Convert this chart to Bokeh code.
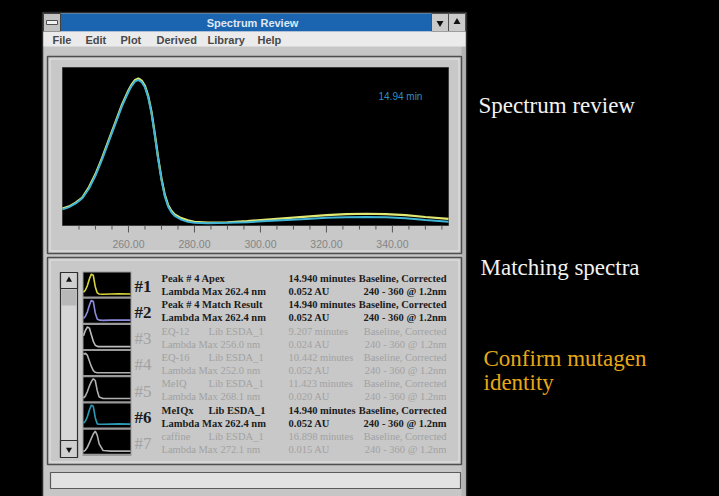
from bokeh.plotting import figure
from bokeh.models import Range1d
from bokeh.core.properties import value
from bokeh.embed import file_html
from bokeh.resources import INLINE

# ---------------- data ----------------
wavelengths = [240, 242, 244, 246, 248, 250, 252, 254, 256, 258, 260, 261, 262, 263, 264,
               265, 266, 267, 268, 269, 270, 271, 272, 273, 274, 276, 278, 280, 284, 290,
               296, 302, 308, 314, 320, 326, 332, 338, 344, 350, 357]
sample_abs = [0.115, 0.13, 0.155, 0.19, 0.26, 0.35, 0.46, 0.58, 0.70, 0.82, 0.92, 0.96, 0.99,
              1.0, 0.985, 0.95, 0.88, 0.77, 0.62, 0.46, 0.32, 0.21, 0.14, 0.10, 0.075, 0.05,
              0.035, 0.025, 0.02, 0.022, 0.03, 0.04, 0.05, 0.06, 0.07, 0.078, 0.08, 0.078,
              0.07, 0.058, 0.045]
library_abs = [0.11, 0.125, 0.15, 0.185, 0.25, 0.34, 0.45, 0.57, 0.69, 0.81, 0.91, 0.95, 0.98,
               0.99, 0.975, 0.94, 0.87, 0.76, 0.61, 0.45, 0.31, 0.20, 0.13, 0.09, 0.065, 0.04,
               0.025, 0.018, 0.015, 0.018, 0.022, 0.03, 0.038, 0.045, 0.052, 0.056, 0.058,
               0.056, 0.05, 0.038, 0.025]
wl_min, wl_max = 240, 357
major_ticks = [260, 280, 300, 320, 340]
tick_labels = ["260.00", "280.00", "300.00", "320.00", "340.00"]
minor_ticks = [245, 250, 255, 265, 270, 275, 285, 290, 295, 305, 310, 315, 325, 330, 335,
               345, 350, 355]
time_label = "14.94 min"

# thumbnails (normalised to each thumbnail box)
thumb_wl = [240, 245, 250, 255, 260, 265, 270, 275, 280, 290, 310, 330, 360]
thumb_1 = [0.15, 0.25, 0.45, 0.75, 0.97, 0.92, 0.40, 0.12, 0.07, 0.06, 0.07, 0.08, 0.07]
thumb_2 = [0.15, 0.25, 0.45, 0.75, 0.97, 0.92, 0.40, 0.12, 0.07, 0.06, 0.07, 0.08, 0.07]
thumb_3 = [0.55, 0.80, 0.95, 0.90, 0.60, 0.30, 0.12, 0.07, 0.06, 0.06, 0.06, 0.06, 0.06]
thumb_4 = [0.90, 0.95, 0.85, 0.60, 0.35, 0.16, 0.08, 0.06, 0.06, 0.06, 0.06, 0.06, 0.06]
thumb_5 = [0.10, 0.20, 0.40, 0.65, 0.85, 0.98, 0.90, 0.45, 0.15, 0.08, 0.08, 0.08, 0.08]
thumb_6 = [0.15, 0.25, 0.45, 0.75, 0.97, 0.92, 0.40, 0.12, 0.10, 0.10, 0.11, 0.12, 0.11]
thumb_7 = [0.05, 0.12, 0.25, 0.45, 0.65, 0.85, 0.98, 0.80, 0.40, 0.10, 0.07, 0.07, 0.07]
thumb_colors = ["#d6d63a", "#8c8cdc", "#bcbcbc", "#b0b0b0", "#b0b0b0", "#2b9ab4", "#b0b0b0"]

row_ids = ["#1", "#2", "#3", "#4", "#5", "#6", "#7"]
row_names = ["Peak # 4 Apex", "Peak # 4 Match Result", "EQ-12", "EQ-16", "MeIQ", "MeIQx", "caffine"]
row_libs = ["", "", "Lib ESDA_1", "Lib ESDA_1", "Lib ESDA_1", "Lib ESDA_1", "Lib ESDA_1"]
row_lmax = [262.4, 262.4, 256.0, 252.0, 268.1, 262.4, 272.1]
row_rt = [14.940, 14.940, 9.207, 10.442, 11.423, 14.940, 16.898]
row_au = [0.052, 0.052, 0.024, 0.052, 0.020, 0.052, 0.015]
row_match = [True, True, False, False, False, True, False]

menu_items = ["File", "Edit", "Plot", "Derived", "Library", "Help"]
menu_x = [52, 85, 120, 156, 207, 257]

captions = ["Spectrum review", "Matching spectra", "Confirm mutagen", "identity"]
caption_colors = ["#f2f2f2", "#f2f2f2", "#e6a818", "#e6a818"]

# ---------------- layout (reference pixel coordinates) ----------------
W, H = 719, 496
X0, X1, Y0, Y1 = 0, 719, 0, 496
PL, PR, PT, PB = 62, 448, 67, 225          # spectrum plot box
ABS_TOP_PX = 78                              # y pixel of abs = 1.0
TL, TR, TT, TPITCH, TH = 83, 130, 272, 26.2, 24   # thumbnails
ROW0, RPITCH = 278, 26.3

p = figure(width=W, height=H, x_range=Range1d(X0, X1), y_range=Range1d(Y1, Y0),
           x_axis_location=None, y_axis_location=None, toolbar_location=None, tools="",
           output_backend="svg", min_border=0, background_fill_color="#000000",
           border_fill_color="#000000", outline_line_color=None)
p.xgrid.visible = False
p.ygrid.visible = False

# extra ranges so data goes through bokeh scales
s = (wl_max - wl_min) / (PR - PL)
a = 1.0 / (PB - ABS_TOP_PX)
st = (360 - 240) / (TR - TL)
p.extra_x_ranges = {
    "wl": Range1d(wl_min - (PL - X0) * s, wl_max + (X1 - PR) * s),
    "thumb": Range1d(240 - (TL - X0) * st, 360 + (X1 - TR) * st),
}
p.extra_y_ranges = {"abs": Range1d((PB - Y1) * a, (PB - Y0) * a)}
for i in range(7):
    top = TT + TPITCH * i + 1
    bot = top + TH - 2
    k = 1.0 / (bot - top)
    p.extra_y_ranges[f"t{i}"] = Range1d((bot - Y1) * k, (bot - Y0) * k)

# ---------------- window chrome ----------------
p.quad(left=42, right=466, top=12, bottom=500, fill_color="#c6c6c6", line_color="#2a2a2a", line_width=1.5)
p.quad(left=461, right=465, top=46, bottom=500, fill_color="#b4b4b4", line_color=None)
p.quad(left=60, right=431, top=13, bottom=31, fill_color="#1a64b0", line_color=None)
p.quad(left=43, right=60, top=13, bottom=31, fill_color="#c2c2c2", line_color="#404040", line_width=1)
p.quad(left=46, right=57, top=20, bottom=24, fill_color="#f2f2f2", line_color="#505050", line_width=1)
p.quad(left=[431, 448], right=[448, 465], top=[13, 13], bottom=[31, 31],
       fill_color="#cacaca", line_color="#505050", line_width=1)
p.scatter(x=[439.5], y=[22.5], marker="inverted_triangle", size=7, fill_color="#101010", line_color=None)
p.scatter(x=[456.5], y=[21.5], marker="triangle", size=7, fill_color="#101010", line_color=None)
p.text(x=[252], y=[22], text=["Spectrum Review"], text_font=value("Liberation Sans"),
       text_font_style="bold", text_font_size="11px", text_color="#dfe8f4",
       text_align="center", text_baseline="middle")
p.quad(left=43, right=465, top=31, bottom=46, fill_color="#ebebeb", line_color=None)
p.text(x=menu_x, y=[39] * len(menu_items), text=menu_items, text_font=value("Liberation Sans"),
       text_font_style="bold", text_font_size="11px", text_color="#484848",
       text_align="left", text_baseline="middle")

# panel 1
p.quad(left=47, right=461, top=56, bottom=253, fill_color="#c8c8c8", line_color="#4e4e4e", line_width=1.5)
p.quad(left=49.5, right=458.5, top=58.5, bottom=250.5, fill_color=None, line_color="#e4e4e4", line_width=1)
p.quad(left=PL, right=PR, top=PT, bottom=PB, fill_color="#000000", line_color="#3a3a3a", line_width=1)

# spectrum
p.line(x=wavelengths, y=sample_abs, x_range_name="wl", y_range_name="abs",
       line_color="#e2e872", line_width=2.2)
p.line(x=wavelengths, y=library_abs, x_range_name="wl", y_range_name="abs",
       line_color="#3fb4d6", line_width=2)
p.text(x=[378], y=[96], text=[time_label], text_font=value("Liberation Sans"),
       text_font_size="10px", text_color="#2e8ec4", text_align="left", text_baseline="middle")

# axis ticks / labels through wavelength scale
p.segment(x0=minor_ticks, x1=minor_ticks, y0=[PB] * len(minor_ticks), y1=[PB + 4] * len(minor_ticks),
          x_range_name="wl", line_color="#555555", line_width=1)
p.segment(x0=major_ticks, x1=major_ticks, y0=[PB] * len(major_ticks), y1=[PB + 7] * len(major_ticks),
          x_range_name="wl", line_color="#555555", line_width=1)
p.text(x=major_ticks, y=[243] * len(major_ticks), text=tick_labels, x_range_name="wl",
       text_font=value("Liberation Sans"), text_font_size="10.5px", text_color="#858585",
       text_align="center", text_baseline="middle")

# panel 2
p.quad(left=47, right=461, top=257, bottom=464, fill_color="#c8c8c8", line_color="#4e4e4e", line_width=1.5)
p.quad(left=49.5, right=458.5, top=259.5, bottom=461.5, fill_color=None, line_color="#e4e4e4", line_width=1)

# scrollbar
p.quad(left=60, right=77, top=272, bottom=457, fill_color="#d6d6d6", line_color="#2e2e2e", line_width=1.2)
p.quad(left=[60, 60], right=[77, 77], top=[272, 440], bottom=[288, 457],
       fill_color="#d0d0d0", line_color="#2e2e2e", line_width=1.2)
p.quad(left=61, right=76, top=289, bottom=305, fill_color="#b8b8b8", line_color=None)
p.scatter(x=[68.5], y=[279.5], marker="triangle", size=6, fill_color="#111111", line_color=None)
p.scatter(x=[68.5], y=[449], marker="inverted_triangle", size=6, fill_color="#111111", line_color=None)

# thumbnails
thumbs = [thumb_1, thumb_2, thumb_3, thumb_4, thumb_5, thumb_6, thumb_7]
p.quad(left=TL - 1, right=TR + 1, top=TT - 1, bottom=TT + TPITCH * 7, fill_color="#9a9a9a", line_color=None)
for i, vals in enumerate(thumbs):
    top = TT + TPITCH * i
    p.quad(left=TL, right=TR, top=top, bottom=top + TH, fill_color="#000000", line_color=None)
    p.line(x=thumb_wl, y=vals, x_range_name="thumb", y_range_name=f"t{i}",
           line_color=thumb_colors[i], line_width=1.6)

# rows of text
dark, light = "#1c1c1c", "#a2a2a2"
for i in range(7):
    y1 = ROW0 + RPITCH * i
    y2 = y1 + 13
    col = dark if row_match[i] else light
    style = "bold" if row_match[i] else "normal"
    common = dict(text_font=value("Liberation Serif"), text_font_style=style,
                  text_font_size="10.5px", text_color=col, text_baseline="middle")
    p.text(x=[134], y=[y1 + 7.5], text=[row_ids[i]], text_font=value("Liberation Serif"),
           text_font_style=style, text_font_size="17px", text_color=col,
           text_align="left", text_baseline="middle")
    p.text(x=[161, 161, 288, 288], y=[y1, y2, y1, y2],
           text=[row_names[i], f"Lambda Max {row_lmax[i]:.1f} nm",
                 f"{row_rt[i]:.3f} minutes", f"{row_au[i]:.3f} AU"],
           text_align="left", **common)
    if row_libs[i]:
        p.text(x=[208], y=[y1], text=[row_libs[i]], text_align="left", **common)
    p.text(x=[446, 446], y=[y1, y2], text=["Baseline, Corrected", "240 - 360 @ 1.2nm"],
           text_align="right", **common)

# status bar
p.quad(left=50, right=460, top=472, bottom=488, fill_color="#e2e2e2", line_color="#5a5a5a", line_width=1.2)

# captions
p.text(x=[478, 480, 483, 483], y=[104.5, 266.5, 357.5, 381.5], text=captions,
       text_font=value("Liberation Serif"), text_font_size="23px", text_color=caption_colors,
       text_align="left", text_baseline="middle")

html = file_html(p, INLINE)
html = html.replace("</head>", "<style>body{background:#000000;}</style></head>", 1)
open("out.html", "w").write(html)
